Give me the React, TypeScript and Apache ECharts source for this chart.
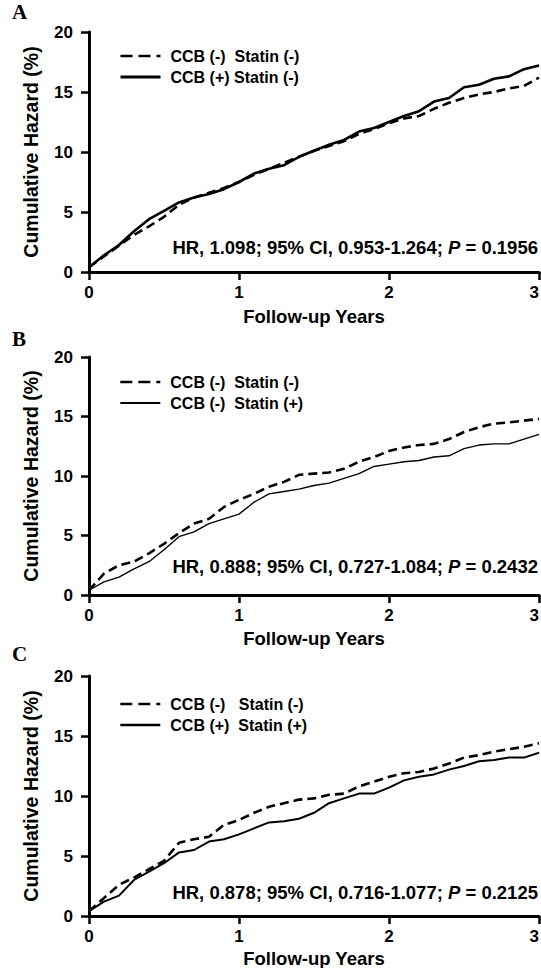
import React, { useEffect, useRef } from "react";
import * as echarts from "echarts";

const years = [0, 0.1, 0.2, 0.3, 0.4, 0.5, 0.6, 0.7, 0.8, 0.9, 1.0, 1.1, 1.2, 1.3, 1.4, 1.5, 1.6, 1.7, 1.8, 1.9, 2.0, 2.1, 2.2, 2.3, 2.4, 2.5, 2.6, 2.7, 2.8, 2.9, 3.0];

const aDashed = [0.4, 1.3, 2.2, 3.1, 3.8, 4.6, 5.6, 6.2, 6.6, 7.0, 7.5, 8.1, 8.6, 9.1, 9.6, 10.1, 10.5, 10.9, 11.5, 11.9, 12.4, 12.8, 13.0, 13.6, 14.1, 14.5, 14.8, 15.0, 15.3, 15.5, 16.2];
const aSolid = [0.4, 1.4, 2.25, 3.4, 4.4, 5.1, 5.8, 6.2, 6.5, 6.9, 7.5, 8.2, 8.6, 8.9, 9.6, 10.1, 10.6, 11.0, 11.7, 12.0, 12.5, 13.0, 13.4, 14.2, 14.5, 15.4, 15.6, 16.1, 16.3, 16.9, 17.2];
const bDashed = [0.4, 1.8, 2.5, 2.8, 3.5, 4.3, 5.2, 6.0, 6.4, 7.4, 8.0, 8.5, 9.1, 9.5, 10.1, 10.2, 10.3, 10.6, 11.2, 11.6, 12.1, 12.4, 12.6, 12.7, 13.1, 13.7, 14.1, 14.4, 14.5, 14.65, 14.8];
const bSolid = [0.4, 1.1, 1.5, 2.2, 2.8, 3.8, 4.9, 5.3, 6.0, 6.4, 6.8, 7.8, 8.5, 8.7, 8.9, 9.2, 9.4, 9.8, 10.2, 10.8, 11.0, 11.2, 11.3, 11.6, 11.7, 12.3, 12.6, 12.7, 12.7, 13.1, 13.5];
const cDashed = [0.4, 1.5, 2.6, 3.2, 3.9, 4.6, 6.1, 6.4, 6.6, 7.6, 8.0, 8.6, 9.1, 9.4, 9.7, 9.8, 10.1, 10.2, 10.8, 11.2, 11.6, 11.9, 12.0, 12.3, 12.7, 13.2, 13.4, 13.7, 13.9, 14.1, 14.4];
const cSolid = [0.4, 1.2, 1.7, 3.0, 3.7, 4.4, 5.3, 5.5, 6.2, 6.4, 6.8, 7.3, 7.8, 7.9, 8.1, 8.6, 9.4, 9.8, 10.2, 10.2, 10.7, 11.3, 11.6, 11.8, 12.2, 12.5, 12.9, 13.0, 13.2, 13.2, 13.6];

const panelLetters = ["A", "B", "C"];
const legendA = ["CCB (-)  Statin (-)", "CCB (+) Statin (-)"];
const legendB = ["CCB (-)  Statin (-)", "CCB (-)  Statin (+)"];
const legendC = ["CCB (-)   Statin (-)", "CCB (+)  Statin (+)"];
const hrTexts = [
  ["HR, 1.098; 95% CI, 0.953-1.264; ", "P", " = 0.1956"],
  ["HR, 0.888; 95% CI, 0.727-1.084; ", "P", " = 0.2432"],
  ["HR, 0.878; 95% CI, 0.716-1.077; ", "P", " = 0.2125"],
];
const xTitle = "Follow-up Years";
const yTitle = "Cumulative Hazard (%)";

const FONT = "'Liberation Sans', Arial, sans-serif";

export default function App() {
  const ref = useRef<HTMLDivElement>(null);
  useEffect(() => {
    document.body.style.margin = "0";
    const chart = echarts.init(ref.current!, null, { renderer: "svg" });
    const grids = [
      { left: 89, top: 32, width: 450, height: 240, outerBoundsMode: "none", containLabel: false },
      { left: 89, top: 357, width: 450, height: 238, outerBoundsMode: "none", containLabel: false },
      { left: 89, top: 676, width: 450, height: 240, outerBoundsMode: "none", containLabel: false },
    ];
    const legends = [legendA, legendB, legendC];
    const legendTops = [43, 369, 691];
    const solidWidths = [2.6, 1.4, 2.0];
    const dataSets = [
      [aDashed, aSolid],
      [bDashed, bSolid],
      [cDashed, cSolid],
    ];
    const hrY = [248, 567, 893];
    const letterY = [11, 338, 653];
    const xNameGaps = [35, 34, 33];

    const xAxes: any[] = [];
    const yAxes: any[] = [];
    const series: any[] = [];
    const legendComps: any[] = [];
    const graphics: any[] = [];

    grids.forEach((g, i) => {
      xAxes.push({
        gridIndex: i,
        type: "value",
        min: 0,
        max: 3,
        interval: 1,
        name: xTitle,
        nameLocation: "middle",
        nameGap: xNameGaps[i],
        nameTextStyle: { fontFamily: FONT, fontWeight: "bold", fontSize: 18.5, lineHeight: 18, color: "#000" },
        axisLine: { lineStyle: { color: "#000", width: 3 } },
        axisTick: { show: true, length: 8, lineStyle: { color: "#000", width: 2.5 } },
        axisLabel: { fontFamily: FONT, fontWeight: "bold", fontSize: 17, color: "#000", margin: 12, alignMaxLabel: "right" },
        splitLine: { show: false },
      });
      yAxes.push({
        gridIndex: i,
        type: "value",
        min: 0,
        max: 20,
        interval: 5,
        name: yTitle,
        nameLocation: "middle",
        nameGap: 48,
        nameRotate: 90,
        nameTextStyle: { fontFamily: FONT, fontWeight: "bold", fontSize: 19.5, color: "#000" },
        axisLine: { show: true, lineStyle: { color: "#000", width: 3 } },
        axisTick: { show: true, length: 8, lineStyle: { color: "#000", width: 2.5 } },
        axisLabel: { fontFamily: FONT, fontWeight: "bold", fontSize: 17, color: "#000", margin: 16 },
        splitLine: { show: false },
      });
      const [dashed, solid] = dataSets[i];
      series.push({
        type: "line",
        name: legends[i][0],
        xAxisIndex: i,
        yAxisIndex: i,
        data: years.map((x, k) => [x, dashed[k]]),
        symbol: "none",
        color: "#000",
        lineStyle: { color: "#000", width: 2.6, type: [9, 5] },
        z: 3,
      });
      series.push({
        type: "line",
        name: legends[i][1],
        xAxisIndex: i,
        yAxisIndex: i,
        data: years.map((x, k) => [x, solid[k]]),
        symbol: "none",
        color: "#000",
        lineStyle: { color: "#000", width: solidWidths[i], type: "solid" },
        z: 4,
      });
      legendComps.push({
        orient: "vertical",
        left: 114,
        top: legendTops[i],
        itemWidth: 40,
        itemHeight: 14,
        itemGap: 5,
        selectedMode: false,
        itemStyle: { opacity: 0 },
        data: [
          { name: legends[i][0], itemStyle: { opacity: 0 }, lineStyle: { color: "#000", width: 2.6, type: [12, 6] } },
          { name: legends[i][1], itemStyle: { opacity: 0 }, lineStyle: { color: "#000", width: solidWidths[i] + 0.4, type: "solid" } },
        ],
        textStyle: { fontFamily: FONT, fontWeight: "bold", fontSize: 16, color: "#000", padding: [0, 0, 0, 5] },
      });
      graphics.push({
        type: "text",
        right: 3,
        top: hrY[i] - 10,
        style: {
          text: `{n|${hrTexts[i][0]}}{i|${hrTexts[i][1]}}{n|${hrTexts[i][2]}}`,
          rich: {
            n: { fontFamily: FONT, fontWeight: "bold", fontSize: 18.5, fill: "#000" },
            i: { fontFamily: FONT, fontWeight: "bold", fontStyle: "italic", fontSize: 18.5, fill: "#000" },
          },
        },
      });
      graphics.push({
        type: "text",
        left: 12,
        top: letterY[i] - 10,
        style: {
          text: panelLetters[i],
          fontFamily: "'Liberation Serif', 'Times New Roman', serif",
          fontWeight: "bold",
          fontSize: 21,
          fill: "#000",
        },
      });
    });

    chart.setOption({
      animation: false,
      backgroundColor: "#fff",
      grid: grids,
      xAxis: xAxes,
      yAxis: yAxes,
      legend: legendComps,
      series,
      graphic: graphics,
    });
    return () => chart.dispose();
  }, []);
  return <div ref={ref} style={{ width: 541, height: 968 }} />;
}
